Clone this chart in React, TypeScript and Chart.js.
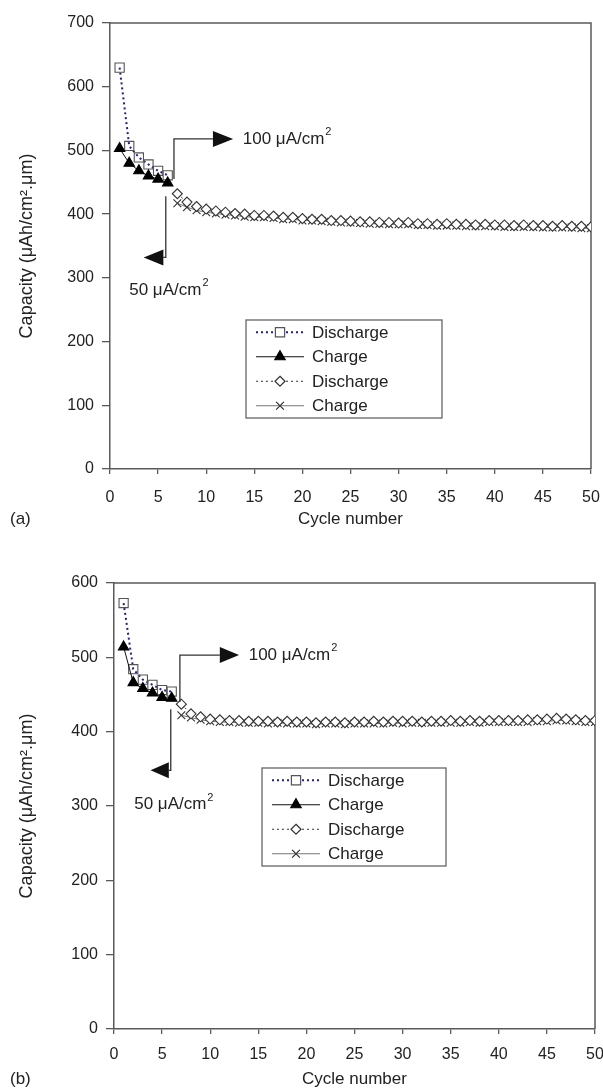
import React, { useEffect, useRef } from "react";
import { Chart, registerables } from "chart.js";

Chart.register(...registerables);

// ---------------- data ----------------
const cyclesLow = [1, 2, 3, 4, 5, 6];
const cyclesHigh = [
  7, 8, 9, 10, 11, 12, 13, 14, 15, 16, 17, 18, 19, 20, 21, 22, 23, 24, 25, 26, 27, 28,
  29, 30, 31, 32, 33, 34, 35, 36, 37, 38, 39, 40, 41, 42, 43, 44, 45, 46, 47, 48, 49, 50,
];
const xTickValues = [0, 5, 10, 15, 20, 25, 30, 35, 40, 45, 50];
const legendLabels = ["Discharge", "Charge", "Discharge", "Charge"];

// panel (a)
const aDischarge50 = [630, 507, 489, 478, 468, 461];
const aCharge50 = [503, 480, 468, 460, 455, 449];
const aDischarge100 = [
  432, 419, 412, 408, 405, 403, 401, 400, 398, 398, 397, 395, 395, 393, 392, 392, 390, 390,
  389, 388, 388, 387, 387, 386, 387, 385, 385, 384, 385, 384, 384, 383, 384, 383, 383, 382,
  383, 382, 382, 381, 382, 381, 381, 380,
];
const aCharge100 = [
  417, 411, 406, 403, 401, 399, 398, 396, 395, 395, 394, 392, 392, 390, 390, 389, 388, 387,
  387, 386, 385, 385, 384, 384, 384, 383, 383, 382, 382, 382, 381, 381, 381, 381, 380, 380,
  380, 380, 379, 379, 379, 379, 378, 378,
];

// panel (b)
const bDischarge50 = [573, 484, 470, 463, 456, 454];
const bCharge50 = [514, 466, 458, 452, 446, 445];
const bDischarge100 = [
  437, 424, 420, 417, 416, 415, 415, 414, 414, 414, 413, 414, 413, 413, 412, 413, 413, 412,
  413, 413, 414, 413, 414, 414, 414, 413, 414, 414, 415, 414, 415, 414, 415, 415, 415, 415,
  416, 416, 417, 418, 417, 416, 415, 415,
];
const bCharge100 = [
  422, 419, 416, 414, 413, 413, 412, 412, 412, 411, 412, 411, 411, 411, 410, 411, 411, 410,
  411, 411, 411, 411, 412, 411, 412, 412, 412, 412, 412, 412, 413, 412, 413, 413, 413, 413,
  413, 414, 414, 415, 415, 414, 413, 413,
];

// ---------------- styles / layout ----------------
const W = 603;
const PANEL_H = 545;
const FONT = '"Liberation Sans", Arial, Helvetica, sans-serif';
const TEXT = "#222";
const AXIS = "#5a5a5a";
const TITLE_SIZE = 17;

type Panel = {
  label: string;
  yMax: number;
  box: { left: number; top: number; right: number; bottom: number };
  tickPad: number;
  titlePad: number;
  d50: number[];
  c50: number[];
  d100: number[];
  c100: number[];
  up: { x: number; y0: number; y1: number; x1: number; x2: number; tx: number };
  down: { x: number; y0: number; y1: number; tip: number; base: number; tx: number; ty: number };
  legend: { x: number; y: number; w: number; h: number };
};

const panelA: Panel = {
  label: "(a)",
  yMax: 700,
  box: { left: 110, top: 23, right: 591, bottom: 469 },
  tickPad: 14,
  titlePad: 15,
  d50: aDischarge50,
  c50: aCharge50,
  d100: aDischarge100,
  c100: aCharge100,
  up: { x: 6.65, y0: 455, y1: 518, x1: 10.7, x2: 12.8, tx: 13.8 },
  down: { x: 5.8, y0: 428, y1: 332, tip: 3.5, base: 5.55, tx: 2.0, ty: 281 },
  legend: { x: 246, y: 320, w: 196, h: 98 },
};

const panelB: Panel = {
  label: "(b)",
  yMax: 600,
  box: { left: 114, top: 38, right: 595, bottom: 484 },
  tickPad: 11,
  titlePad: 0,
  d50: bDischarge50,
  c50: bCharge50,
  d100: bDischarge100,
  c100: bCharge100,
  up: { x: 6.85, y0: 440, y1: 503, x1: 11.0, x2: 13.0, tx: 14.0 },
  down: { x: 5.9, y0: 430, y1: 348, tip: 3.8, base: 5.7, tx: 2.1, ty: 302 },
  legend: { x: 262, y: 223, w: 184, h: 98 },
};

const seriesStyles = [
  { line: "#20208a", width: 2, dash: [2, 3], point: "rect", radius: 6.5, fill: "rgba(255,255,255,0)", pBorder: "#555" },
  { line: "#111", width: 1, dash: [], point: "triangle", radius: 6, fill: "#000", pBorder: "#000" },
  { line: "#333", width: 1, dash: [2, 3], point: "rectRot", radius: 5, fill: "#fff", pBorder: "#333" },
  { line: "#777", width: 1, dash: [], point: "crossRot", radius: 5.5, fill: "#333", pBorder: "#333" },
];

function drawMarker(ctx: CanvasRenderingContext2D, style: string, x: number, y: number, r: number, fill: string, stroke: string) {
  ctx.save();
  ctx.setLineDash([]);
  ctx.lineWidth = 1.2;
  ctx.strokeStyle = stroke;
  ctx.fillStyle = fill;
  ctx.beginPath();
  if (style === "rect") {
    const s = r * Math.SQRT1_2;
    ctx.rect(x - s, y - s, 2 * s, 2 * s);
    ctx.fill();
    ctx.stroke();
  } else if (style === "triangle") {
    ctx.moveTo(x, y - r);
    ctx.lineTo(x + r * 0.866, y + r * 0.5);
    ctx.lineTo(x - r * 0.866, y + r * 0.5);
    ctx.closePath();
    ctx.fill();
    ctx.stroke();
  } else if (style === "rectRot") {
    ctx.moveTo(x, y - r);
    ctx.lineTo(x + r, y);
    ctx.lineTo(x, y + r);
    ctx.lineTo(x - r, y);
    ctx.closePath();
    ctx.fill();
    ctx.stroke();
  } else {
    const s = r * Math.SQRT1_2;
    ctx.moveTo(x - s, y - s);
    ctx.lineTo(x + s, y + s);
    ctx.moveTo(x + s, y - s);
    ctx.lineTo(x - s, y + s);
    ctx.stroke();
  }
  ctx.restore();
}

function drawUnit(ctx: CanvasRenderingContext2D, x: number, y: number, value: string) {
  ctx.save();
  ctx.fillStyle = TEXT;
  ctx.textAlign = "left";
  ctx.textBaseline = "middle";
  ctx.font = `17px ${FONT}`;
  const main = `${value} μA/cm`;
  ctx.fillText(main, x, y);
  const w = ctx.measureText(main).width;
  ctx.font = `11px ${FONT}`;
  ctx.fillText("2", x + w + 1, y - 7);
  ctx.restore();
}

function makePlugin(p: Panel) {
  return {
    id: "panelDecor" + p.label,
    beforeDatasetsDraw(chart: any) {
      const { ctx, chartArea } = chart;
      ctx.save();
      ctx.strokeStyle = AXIS;
      ctx.lineWidth = 1.5;
      ctx.beginPath();
      ctx.moveTo(chartArea.left, chartArea.top);
      ctx.lineTo(chartArea.right, chartArea.top);
      ctx.lineTo(chartArea.right, chartArea.bottom);
      ctx.stroke();
      ctx.restore();
    },
    afterDraw(chart: any) {
      const { ctx } = chart;
      const xs = chart.scales.x;
      const ys = chart.scales.y;
      const px = (v: number) => xs.getPixelForValue(v);
      const py = (v: number) => ys.getPixelForValue(v);

      ctx.save();
      ctx.strokeStyle = "#333";
      ctx.fillStyle = "#111";
      ctx.lineWidth = 1.3;
      ctx.setLineDash([]);

      const u = p.up;
      ctx.beginPath();
      ctx.moveTo(px(u.x), py(u.y0));
      ctx.lineTo(px(u.x), py(u.y1));
      ctx.lineTo(px(u.x1), py(u.y1));
      ctx.stroke();
      ctx.beginPath();
      ctx.moveTo(px(u.x1), py(u.y1) - 8);
      ctx.lineTo(px(u.x2), py(u.y1));
      ctx.lineTo(px(u.x1), py(u.y1) + 8);
      ctx.closePath();
      ctx.fill();
      drawUnit(ctx, px(u.tx), py(u.y1), "100");

      const d = p.down;
      ctx.beginPath();
      ctx.moveTo(px(d.x), py(d.y0));
      ctx.lineTo(px(d.x), py(d.y1));
      ctx.lineTo(px(d.base), py(d.y1));
      ctx.stroke();
      ctx.beginPath();
      ctx.moveTo(px(d.base), py(d.y1) - 8);
      ctx.lineTo(px(d.tip), py(d.y1));
      ctx.lineTo(px(d.base), py(d.y1) + 8);
      ctx.closePath();
      ctx.fill();
      drawUnit(ctx, px(d.tx), py(d.ty), "50");
      ctx.restore();

      const L = p.legend;
      ctx.save();
      ctx.fillStyle = "#fff";
      ctx.fillRect(L.x, L.y, L.w, L.h);
      ctx.strokeStyle = "#666";
      ctx.lineWidth = 1.3;
      ctx.strokeRect(L.x, L.y, L.w, L.h);
      const gap = L.h / 4;
      legendLabels.forEach((lab, i) => {
        const s = seriesStyles[i];
        const y = L.y + gap * (i + 0.5);
        const x0 = L.x + 10;
        const x1 = L.x + 58;
        ctx.save();
        ctx.strokeStyle = s.line;
        ctx.lineWidth = s.width;
        ctx.setLineDash(s.dash);
        ctx.beginPath();
        ctx.moveTo(x0, y);
        ctx.lineTo(x1, y);
        ctx.stroke();
        ctx.restore();
        drawMarker(ctx, s.point, (x0 + x1) / 2, y, s.radius, s.point === "rect" ? "#fff" : s.fill, s.pBorder);
        ctx.fillStyle = TEXT;
        ctx.font = `17px ${FONT}`;
        ctx.textAlign = "left";
        ctx.textBaseline = "middle";
        ctx.fillText(lab, x1 + 8, y + 1);
      });
      ctx.restore();

      ctx.save();
      ctx.fillStyle = TEXT;
      ctx.font = `${TITLE_SIZE}px ${FONT}`;
      ctx.textAlign = "left";
      ctx.textBaseline = "middle";
      const ty = chart.height - p.titlePad - (TITLE_SIZE * 1.2) / 2;
      ctx.fillText(p.label, 10, ty);
      ctx.restore();
    },
  };
}

function buildConfig(p: Panel): any {
  const sets = [
    { label: legendLabels[0], data: cyclesLow.map((c, i) => ({ x: c, y: p.d50[i] })) },
    { label: legendLabels[1], data: cyclesLow.map((c, i) => ({ x: c, y: p.c50[i] })) },
    { label: legendLabels[2], data: cyclesHigh.map((c, i) => ({ x: c, y: p.d100[i] })) },
    { label: legendLabels[3], data: cyclesHigh.map((c, i) => ({ x: c, y: p.c100[i] })) },
  ].map((ds, i) => {
    const s = seriesStyles[i];
    return {
      ...ds,
      showLine: true,
      tension: 0,
      borderColor: s.line,
      borderWidth: s.width,
      borderDash: s.dash,
      pointStyle: s.point,
      pointRadius: s.radius,
      pointBackgroundColor: s.fill,
      pointBorderColor: s.pBorder,
      pointBorderWidth: 1.1,
      order: [2, 1, 3, 4][i],
    };
  });

  const H = PANEL_H;
  return {
    type: "line",
    data: { datasets: sets },
    options: {
      animation: false,
      responsive: false,
      devicePixelRatio: 1,
      layout: { padding: { top: p.box.top, right: W - p.box.right, left: 0, bottom: 0 } },
      plugins: { legend: { display: false }, tooltip: { enabled: false } },
      scales: {
        x: {
          type: "linear",
          min: 0,
          max: 50,
          afterBuildTicks: (s: any) => {
            s.ticks = xTickValues.map((v) => ({ value: v }));
          },
          afterFit: (s: any) => {
            s.height = H - p.box.bottom;
            s.paddingLeft = 0;
            s.paddingRight = 0;
          },
          ticks: { color: TEXT, font: { family: FONT, size: 16 }, padding: p.tickPad, maxRotation: 0 },
          grid: { drawOnChartArea: false, tickLength: 5, color: AXIS, lineWidth: 1.3 },
          border: { color: AXIS, width: 1.5 },
          title: {
            display: true,
            text: "Cycle number",
            color: TEXT,
            font: { family: FONT, size: TITLE_SIZE },
            padding: { top: 0, bottom: p.titlePad },
          },
        },
        y: {
          min: 0,
          max: p.yMax,
          afterFit: (s: any) => {
            s.width = p.box.left;
            s.paddingTop = 0;
            s.paddingBottom = 0;
          },
          ticks: { stepSize: 100, color: TEXT, font: { family: FONT, size: 16 }, padding: 8 },
          grid: { drawOnChartArea: false, tickLength: 8, color: AXIS, lineWidth: 1.3 },
          border: { color: AXIS, width: 1.5 },
          title: {
            display: true,
            text: "Capacity (μAh/cm².μm)",
            color: TEXT,
            font: { family: FONT, size: 18 },
            padding: { top: 16, bottom: 0 },
          },
        },
      },
    },
    plugins: [makePlugin(p)],
  };
}

function PanelChart({ panel, top }: { panel: Panel; top: number }) {
  const ref = useRef<HTMLCanvasElement | null>(null);
  useEffect(() => {
    if (!ref.current) return;
    const chart = new Chart(ref.current, buildConfig(panel));
    return () => chart.destroy();
  }, [panel]);
  return (
    <canvas
      ref={ref}
      width={W}
      height={PANEL_H}
      style={{ position: "absolute", left: 0, top, width: W, height: PANEL_H }}
    />
  );
}

export default function App() {
  return (
    <div style={{ position: "absolute", left: 0, top: 0, width: W, height: 1090, background: "#fff" }}>
      <PanelChart panel={panelA} top={0} />
      <PanelChart panel={panelB} top={PANEL_H} />
    </div>
  );
}
